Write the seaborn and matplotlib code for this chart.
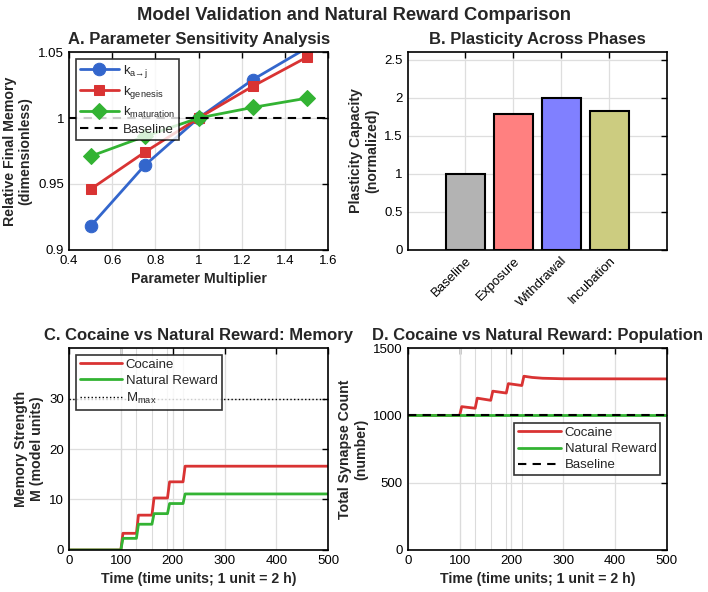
import numpy as np
import pandas as pd
import matplotlib
matplotlib.use("Agg")
import matplotlib.pyplot as plt
import seaborn as sns
from matplotlib.ticker import FuncFormatter, MultipleLocator, FixedLocator

# ---------------- data ----------------
multipliers = [0.5, 0.75, 1.0, 1.25, 1.5]
k_aj = [0.918, 0.964, 1.0, 1.029, 1.053]
k_genesis = [0.946, 0.974, 1.0, 1.024, 1.046]
k_maturation = [0.971, 0.986, 1.0, 1.008, 1.015]

phases = ["Baseline", "Exposure", "Withdrawal", "Incubation"]
plasticity = [1.0, 1.78, 2.0, 1.83]

dose_times = [100, 130, 160, 190, 220]

t_mem = [0, 100, 104, 130, 134, 160, 164, 190, 194, 220, 224, 500]
cocaine_mem = [0, 0, 3.3, 3.3, 6.9, 6.9, 10.3, 10.3, 13.5, 13.5, 16.6, 16.6]
natural_mem = [0, 0, 2.3, 2.3, 5.1, 5.1, 7.2, 7.2, 9.2, 9.2, 11.1, 11.1]
m_max = 30

t_pop = [0, 100, 104, 130, 134, 160, 164, 190, 194, 220, 224, 240, 260, 300, 500]
cocaine_pop = [1000, 1000, 1065, 1053, 1128, 1112, 1180, 1166, 1236, 1222, 1291,
               1282, 1276, 1272, 1271]
t_nat_pop = [0, 500]
natural_pop = [1000, 1000]
baseline_pop = 1000

# ---------------- style ----------------
sns.set_style("white")
plt.rcParams["font.family"] = ["Liberation Sans", "DejaVu Sans"]
plt.rcParams["mathtext.fontset"] = "custom"
plt.rcParams["mathtext.rm"] = "Liberation Sans"

BLUE = (0.2, 0.4, 0.8)
RED = (0.85, 0.2, 0.2)
GREEN = (0.2, 0.7, 0.2)
TICK_FS = 9.5
LAB_FS = 10.2
TITLE_FS = 12
LEG_FS = 9.5

fig = plt.figure(figsize=(7.08, 5.92), dpi=100)
axA = fig.add_axes([0.0975, 0.578, 0.366, 0.334])
axB = fig.add_axes([0.576, 0.578, 0.366, 0.334])
axC = fig.add_axes([0.0975, 0.071, 0.366, 0.341])
axD = fig.add_axes([0.576, 0.071, 0.366, 0.341])

gfmt = FuncFormatter(lambda v, p: f"{v:g}")


def style(ax):
    for s in ax.spines.values():
        s.set_visible(True)
        s.set_color("black")
        s.set_linewidth(1.2)
    ax.tick_params(direction="in", top=True, right=True, length=4,
                   width=1.0, labelsize=TICK_FS, colors="black")
    ax.grid(True, color=(0.87, 0.87, 0.87), linewidth=0.9)
    ax.set_axisbelow(True)


def frame(leg):
    leg.get_frame().set_edgecolor("black")
    leg.get_frame().set_linewidth(1.2)


# ---------------- A ----------------
style(axA)
series = [(k_aj, BLUE, "o", 9, r"$\mathregular{k_{a→j}}$"),
          (k_genesis, RED, "s", 7.5, r"$\mathregular{k_{genesis}}$"),
          (k_maturation, GREEN, "D", 8, r"$\mathregular{k_{maturation}}$")]
for vals, col, mk, ms, lab in series:
    sns.lineplot(x=multipliers, y=vals, ax=axA, color=col, marker=mk,
                 markersize=ms, markeredgecolor=col, markerfacecolor=col,
                 linewidth=2, label=lab, estimator=None, sort=False)
axA.axhline(1.0, color="black", linestyle="--", linewidth=1.5, dashes=(4, 3),
            label="Baseline")
axA.set_xlim(0.4, 1.6)
axA.set_ylim(0.9, 1.05)
axA.xaxis.set_major_locator(MultipleLocator(0.2))
axA.yaxis.set_major_locator(MultipleLocator(0.05))
axA.xaxis.set_major_formatter(gfmt)
axA.yaxis.set_major_formatter(gfmt)
axA.set_xlabel("Parameter Multiplier", fontsize=LAB_FS, fontweight="bold")
axA.set_ylabel("Relative Final Memory\n(dimensionless)", fontsize=LAB_FS,
               fontweight="bold")
axA.set_title("A. Parameter Sensitivity Analysis", fontsize=TITLE_FS,
              fontweight="bold", pad=6)
legA = axA.legend(loc="upper left", fontsize=LEG_FS, handlelength=3.0,
                  frameon=True, fancybox=False, borderaxespad=0.5,
                  labelspacing=0.3, handletextpad=0.3, borderpad=0.3)
frame(legA)

# ---------------- B ----------------
style(axB)
bar_colors = [(0.7, 0.7, 0.7), (1.0, 0.5, 0.5), (0.5, 0.5, 1.0), (0.8, 0.8, 0.5)]
dfB = pd.DataFrame({"phase": phases, "val": plasticity})
sns.barplot(data=dfB, x="phase", y="val", hue="phase", palette=bar_colors,
            legend=False, ax=axB, width=0.8, saturation=1,
            edgecolor="black", linewidth=1.5)
axB.set_xlim(-1.2, 4.2)
axB.set_ylim(0, 2.6)
axB.yaxis.set_major_locator(MultipleLocator(0.5))
axB.yaxis.set_major_formatter(gfmt)
axB.grid(True, axis="both")
axB.set_xlabel("")
axB.set_ylabel("Plasticity Capacity\n(normalized)", fontsize=LAB_FS,
               fontweight="bold")
axB.set_title("B. Plasticity Across Phases", fontsize=TITLE_FS,
              fontweight="bold", pad=6)
plt.setp(axB.get_xticklabels(), rotation=45, ha="right",
         rotation_mode="anchor")

# ---------------- C ----------------
style(axC)
for t in dose_times:
    axC.axvline(t, color=(0.86, 0.86, 0.86), linewidth=0.8)
sns.lineplot(x=t_mem, y=cocaine_mem, ax=axC, color=RED, linewidth=2,
             label="Cocaine", estimator=None, sort=False)
sns.lineplot(x=t_mem, y=natural_mem, ax=axC, color=GREEN, linewidth=2,
             label="Natural Reward", estimator=None, sort=False)
axC.axhline(m_max, color="black", linestyle=":", linewidth=1.0,
            label=r"$\mathregular{M_{max}}$")
axC.set_xlim(0, 500)
axC.set_ylim(0, 40)
axC.xaxis.set_major_locator(MultipleLocator(100))
axC.yaxis.set_major_locator(FixedLocator([0, 10, 20, 30]))
axC.set_xlabel("Time (time units; 1 unit = 2 h)", fontsize=LAB_FS,
               fontweight="bold")
axC.set_ylabel("Memory Strength\nM (model units)", fontsize=LAB_FS,
               fontweight="bold")
axC.set_title("C. Cocaine vs Natural Reward: Memory", fontsize=TITLE_FS,
              fontweight="bold", pad=6)
legC = axC.legend(loc="upper left", fontsize=LEG_FS, handlelength=3.2,
                  frameon=True, fancybox=False, borderaxespad=0.5,
                  labelspacing=0.3, handletextpad=0.3, borderpad=0.3)
frame(legC)

# ---------------- D ----------------
style(axD)
for t in dose_times:
    axD.axvline(t, color=(0.86, 0.86, 0.86), linewidth=0.8)
sns.lineplot(x=t_pop, y=cocaine_pop, ax=axD, color=RED, linewidth=2,
             label="Cocaine", estimator=None, sort=False)
sns.lineplot(x=t_nat_pop, y=natural_pop, ax=axD, color=GREEN, linewidth=2,
             label="Natural Reward", estimator=None, sort=False)
axD.axhline(baseline_pop, color="black", linestyle="--", linewidth=1.5,
            dashes=(4, 3), label="Baseline")
axD.set_xlim(0, 500)
axD.set_ylim(0, 1500)
axD.xaxis.set_major_locator(MultipleLocator(100))
axD.yaxis.set_major_locator(MultipleLocator(500))
axD.set_xlabel("Time (time units; 1 unit = 2 h)", fontsize=LAB_FS,
               fontweight="bold")
axD.set_ylabel("Total Synapse Count\n(number)", fontsize=LAB_FS,
               fontweight="bold")
axD.set_title("D. Cocaine vs Natural Reward: Population", fontsize=TITLE_FS,
              fontweight="bold", pad=6)
legD = axD.legend(loc="center right", fontsize=LEG_FS, handlelength=3.2,
                  frameon=True, fancybox=False, borderaxespad=0.5,
                  labelspacing=0.3, handletextpad=0.3, borderpad=0.3)
frame(legD)

fig.suptitle("Model Validation and Natural Reward Comparison", fontsize=13.2,
             fontweight="bold", y=0.988)

fig.savefig("out.png", dpi=100)
